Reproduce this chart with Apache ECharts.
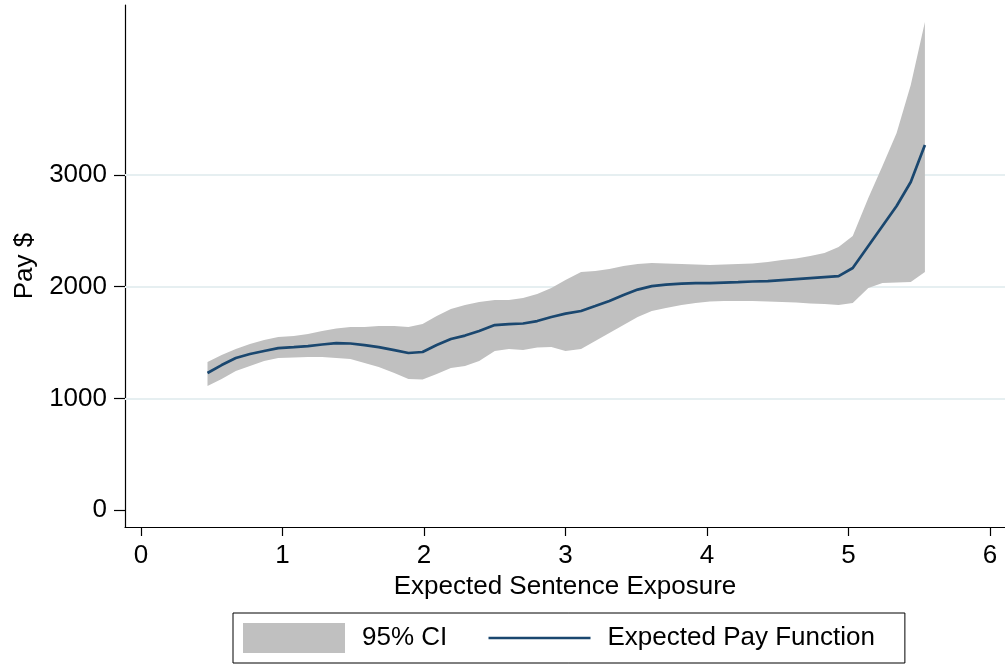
<!DOCTYPE html>
<html>
<head>
<meta charset="utf-8">
<script src="https://cdn.jsdelivr.net/npm/echarts@6/dist/echarts.min.js"></script>
<style>html,body{margin:0;padding:0;background:#fff}#c{width:1005px;height:666px}</style>
</head>
<body>
<div id="c"></div>
<script>
const xVals = [0.47,0.57,0.67,0.77,0.87,0.97,1.08,1.18,1.28,1.38,1.48,1.58,1.68,1.79,1.89,1.99,2.09,2.19,2.29,2.39,2.50,2.60,2.70,2.80,2.90,3.00,3.11,3.21,3.31,3.41,3.51,3.61,3.71,3.82,3.92,4.02,4.12,4.22,4.32,4.43,4.53,4.63,4.73,4.83,4.93,5.03,5.14,5.24,5.34,5.44,5.54];
const payFit = [1227,1298,1361,1397,1424,1450,1459,1468,1482,1495,1491,1477,1459,1432,1406,1415,1477,1531,1562,1603,1656,1665,1670,1692,1728,1759,1782,1826,1871,1925,1974,2005,2019,2028,2032,2032,2037,2041,2046,2050,2059,2068,2077,2086,2095,2167,2364,2543,2722,2937,3268];
const ciUpper = [1325,1388,1441,1486,1522,1549,1558,1576,1603,1625,1638,1638,1647,1647,1638,1665,1737,1800,1835,1862,1880,1880,1898,1934,1988,2059,2131,2140,2158,2185,2202,2211,2207,2202,2198,2193,2198,2202,2207,2220,2238,2252,2274,2301,2355,2453,2793,3080,3375,3805,4369];
const ciLower = [1110,1173,1244,1289,1334,1361,1365,1370,1370,1361,1352,1316,1280,1227,1173,1168,1218,1271,1289,1334,1424,1441,1432,1455,1459,1424,1441,1513,1585,1656,1728,1782,1809,1835,1853,1867,1871,1871,1871,1867,1862,1858,1849,1844,1835,1853,1988,2032,2037,2041,2131];
const xTicks = [0,1,2,3,4,5,6];
const yTicks = [0,1000,2000,3000];
const gridTicks = [1000,2000,3000];

const FONT = "'Liberation Sans', Arial, Helvetica, sans-serif";
const chart = echarts.init(document.getElementById('c'), null, {renderer:'canvas'});
const bandData = xVals.map((x,i)=>[x, ciLower[i], ciUpper[i]]);
const fitData = xVals.map((x,i)=>[x, payFit[i]]);

function renderBand(params, api){
  if (params.dataIndex !== 0) return null;
  const pts = [];
  for (let i = 0; i < bandData.length; i++) pts.push(api.coord([bandData[i][0], bandData[i][2]]));
  for (let i = bandData.length - 1; i >= 0; i--) pts.push(api.coord([bandData[i][0], bandData[i][1]]));
  return {type:'polygon', shape:{points:pts}, style:{fill:'#c0c0c0', stroke:null}};
}

chart.setOption({
  animation:false,
  backgroundColor:'#fff',
  textStyle:{fontFamily:FONT},
  grid:{left:125, right:0, top:5, bottom:139, containLabel:false},
  xAxis:{
    type:'value', min:-0.113, max:6.106,
    name:'Expected Sentence Exposure', nameLocation:'middle', nameGap:41,
    nameTextStyle:{fontSize:26, color:'#000', fontFamily:FONT},
    axisLine:{show:true, onZero:false, lineStyle:{color:'#000', width:1.2}},
    axisTick:{show:true, length:9, customValues:xTicks, lineStyle:{color:'#000', width:1.2}},
    axisLabel:{customValues:xTicks, fontSize:26, color:'#000', margin:16, fontFamily:FONT, formatter:v=>String(v)},
    splitLine:{show:false}
  },
  yAxis:{
    type:'value', min:-152, max:4522,
    name:'Pay $', nameLocation:'middle', nameGap:85, nameRotate:90,
    nameTextStyle:{fontSize:26, color:'#000', fontFamily:FONT},
    axisLine:{show:true, onZero:false, lineStyle:{color:'#000', width:1.2}},
    axisTick:{show:true, length:11, customValues:yTicks, lineStyle:{color:'#000', width:1.2}},
    axisLabel:{customValues:yTicks, fontSize:26, color:'#000', margin:18, fontFamily:FONT, formatter:v=>String(v)},
    splitLine:{show:false}
  },
  legend:{
    left:233, top:613,
    orient:'horizontal',
    padding:[10,30,10,10],
    borderColor:'#000', borderWidth:1,
    itemWidth:102, itemHeight:30, itemGap:40,
    textStyle:{fontSize:26, color:'#000', fontFamily:FONT, padding:[0,0,0,12]},
    data:[
      {name:'95% CI', icon:'rect', itemStyle:{color:'#c0c0c0', borderWidth:0}},
      {name:'Expected Pay Function', itemStyle:{opacity:0}, lineStyle:{width:2.5}}
    ]
  },
  series:[
    {
      name:'95% CI', type:'custom', data:bandData, z:3,
      renderItem:renderBand, color:'#c0c0c0', silent:true,
      encode:{x:0, y:[1,2]}
    },
    {
      name:'Expected Pay Function', type:'line', data:fitData, z:4,
      symbol:'none', showSymbol:false, color:'#1a476f',
      lineStyle:{color:'#1a476f', width:2.7},
      markLine:{
        silent:true, symbol:['none','none'], z:1, animation:false,
        label:{show:false},
        lineStyle:{color:'#e6eff1', width:1.8, type:'solid'},
        data:gridTicks.map(v=>({yAxis:v}))
      }
    }
  ]
});
</script>
</body>
</html>
